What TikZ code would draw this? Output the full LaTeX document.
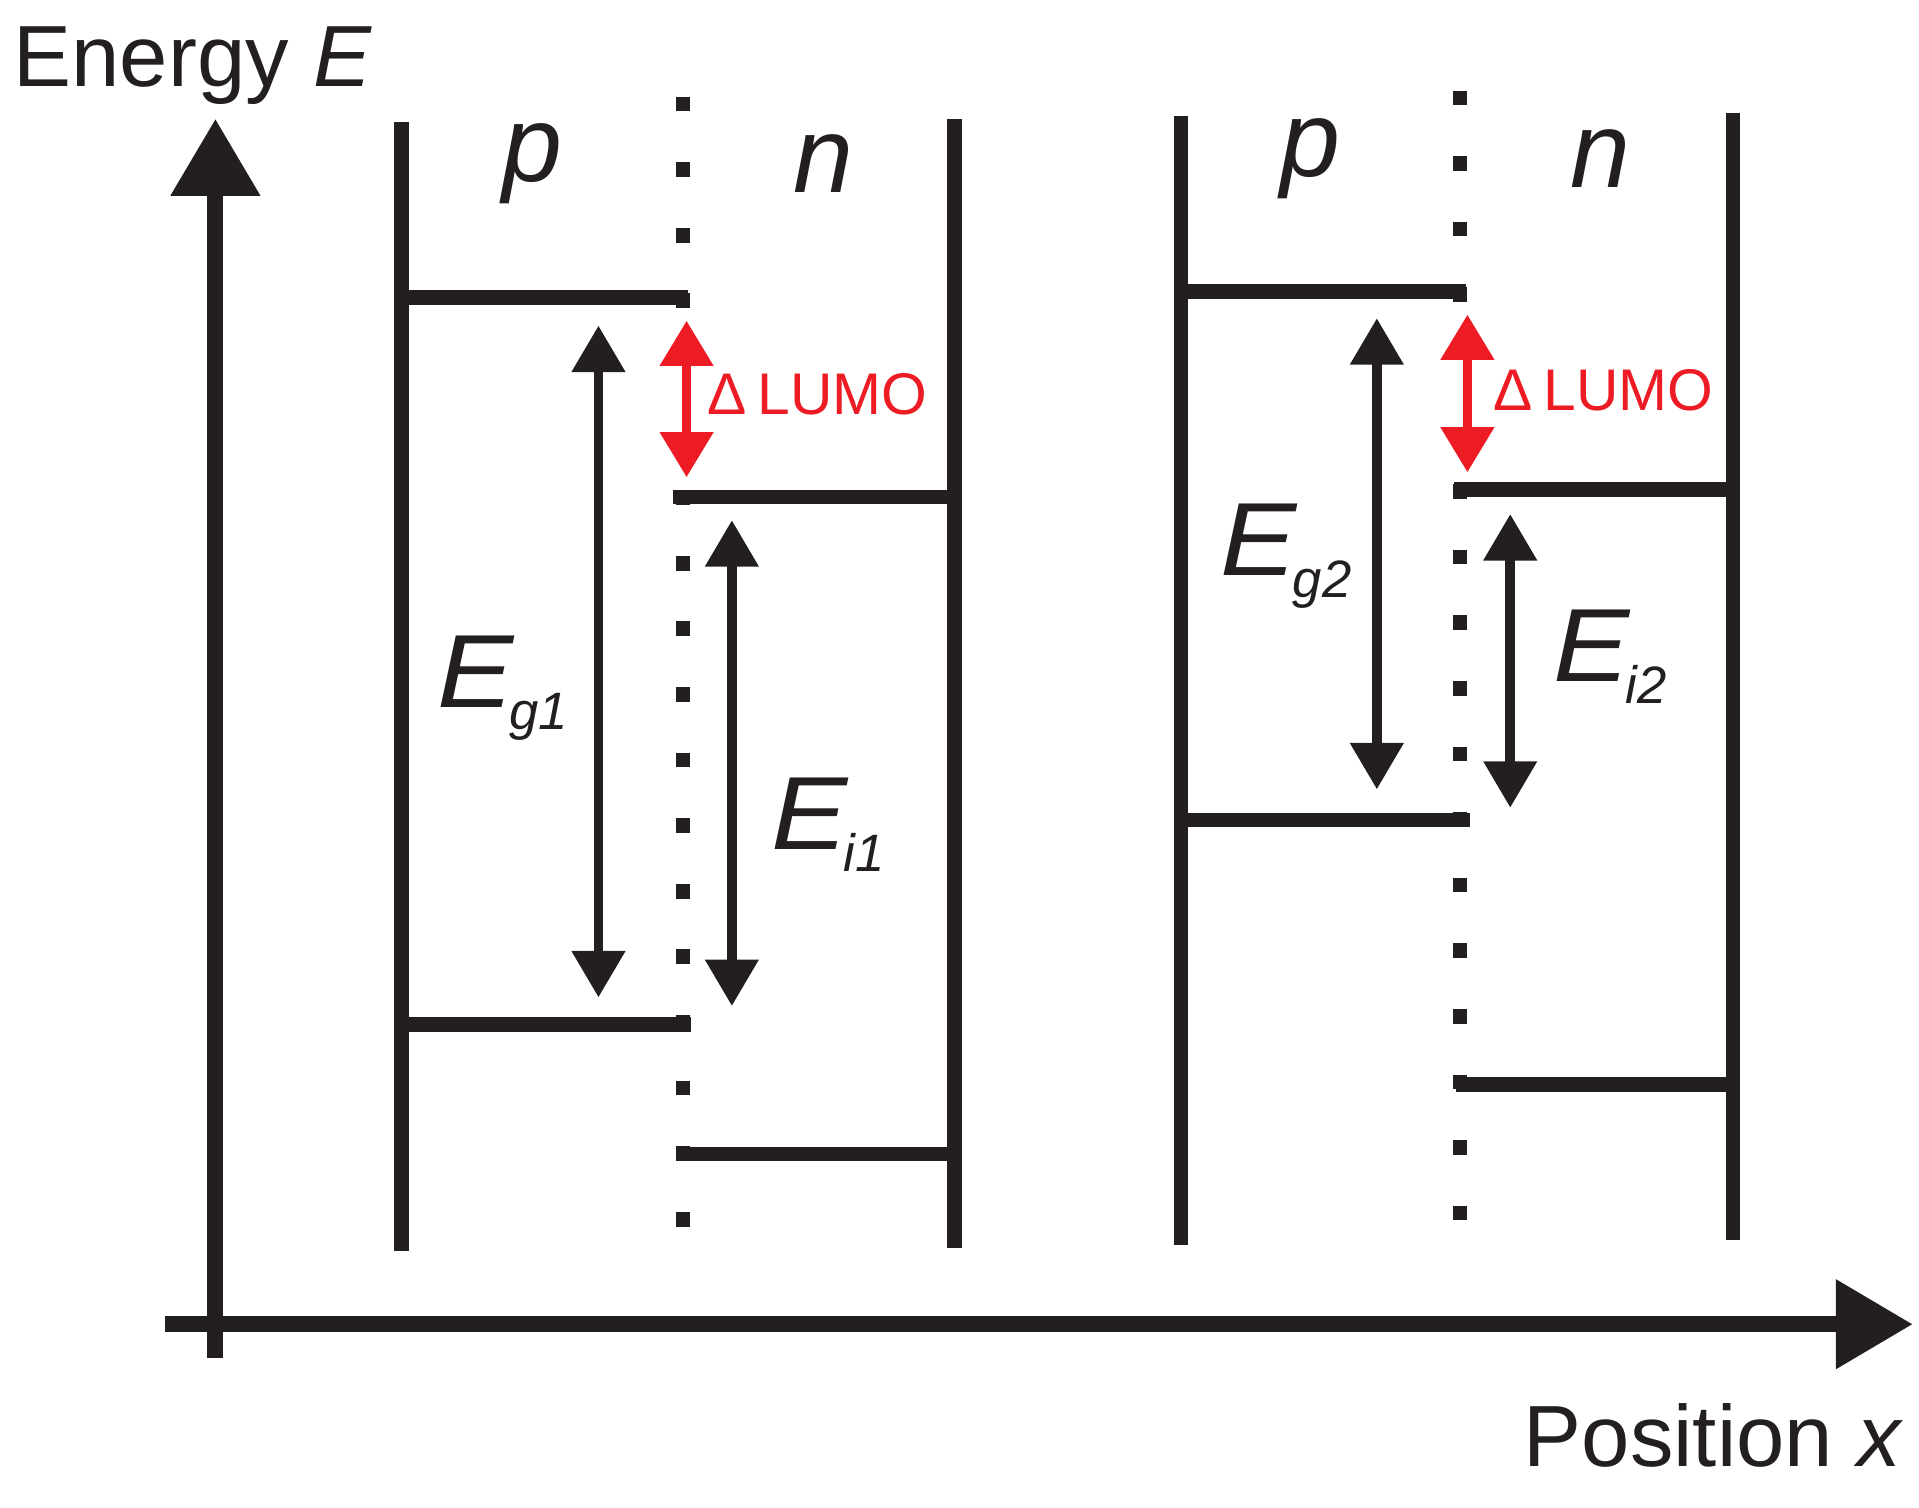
\documentclass[tikz,border=0pt]{standalone}
\usepackage{fontspec}
\setmainfont{Liberation Sans}
\usetikzlibrary{arrows.meta}
\definecolor{ink}{HTML}{231F20}
\definecolor{lumored}{HTML}{ED1C24}
\newcommand{\bigfont}{\fontsize{71}{80}\selectfont}
\newcommand{\labfont}{\fontsize{85}{90}\selectfont}
\newcommand{\subfont}{\fontsize{43}{50}\selectfont}
\newcommand{\pnfont}{\fontsize{88}{96}\selectfont}
\newcommand{\lumofont}{\fontsize{48}{50}\selectfont}
\newcommand{\bandlabel}[1]{\labfont\scalebox{1.1}[1]{\textit{E}}\hspace{-4pt}\raisebox{-18pt}{\subfont\textit{#1}}}
\newcommand{\dlumotext}{\lumofont Δ\hspace{9pt}LUMO}
\begin{document}
\begin{tikzpicture}[x=1pt,y=-1pt,
  wall/.style={draw=ink,line width=12pt},
  level/.style={draw=ink,line width=12pt},
  axis/.style={draw=ink,line width=13pt,-{Triangle[width=70pt,length=63pt]}},
  gaparrow/.style={draw=ink,line width=8pt,{Triangle[width=42pt,length=38pt]}-{Triangle[width=42pt,length=38pt]}},
  dlumo/.style={draw=lumored,line width=8pt,{Triangle[width=42pt,length=37pt]}-{Triangle[width=42pt,length=37pt]}},
  lbl/.style={inner sep=0pt,anchor=base west,text=ink},
  dotsq/.style={fill=ink},
]
\useasboundingbox (0,0) rectangle (1568,1232);

% axes
\coordinate (ybot) at (176,1110);
\coordinate (ytop) at (176,97);
\coordinate (xleft) at (135,1082);
\coordinate (xright) at (1563,1082);
\draw[axis] (ybot) -- (ytop);
\draw[axis] (xleft) -- (xright);
\node[lbl] (elabel) at (11,71) {\bigfont Energy \textit{E}};
\node[lbl] (xlabel) at (1245,1198) {\bigfont Position \textit{x}};

% dotted interfaces
\foreach \k in {0,1,2,3,6,7,8,9,10,11,12,13,14,15,16,17}{
  \fill[dotsq] ({558-6},{85+53.6*\k-6}) rectangle ++(12,12);
  \fill[dotsq] ({1193-6},{80+53.6*\k-6}) rectangle ++(12,12);
}

% left diagram
\draw[wall] (328,100) -- (328,1022);
\draw[wall] (780,97) -- (780,1020);
\draw[level] (328,243) -- (562,243);
\draw[level] (328,837) -- (565,837);
\draw[level] (550,406) -- (780,406);
\draw[level] (553,943) -- (780,943);
\coordinate (g1t) at (489,266);
\coordinate (g1b) at (489,815);
\coordinate (i1t) at (598,425);
\coordinate (i1b) at (598,822);
\coordinate (l1t) at (561,262);
\coordinate (l1b) at (561,390);
\draw[gaparrow] (g1t) -- (g1b);
\draw[gaparrow] (i1t) -- (i1b);
\draw[dlumo] (l1t) -- (l1b);
\node[lbl] (p1) at (410,148) {\pnfont\textit{p}};
\node[lbl] (n1) at (648,157) {\pnfont\textit{n}};
\node[lbl] (eg1) at (357,578) {\bandlabel{g1}};
\node[lbl] (ei1) at (630,694) {\bandlabel{i1}};
\node[lbl,text=lumored] (dl1) at (578,339) {\dlumotext};

% right diagram
\draw[wall] (965,95) -- (965,1017);
\draw[wall] (1416,92) -- (1416,1013);
\draw[level] (965,238) -- (1198,238);
\draw[level] (965,670) -- (1201,670);
\draw[level] (1188,400) -- (1416,400);
\draw[level] (1190,886) -- (1416,886);
\coordinate (g2t) at (1125,260);
\coordinate (g2b) at (1125,645);
\coordinate (i2t) at (1234,420);
\coordinate (i2b) at (1234,660);
\coordinate (l2t) at (1199,257);
\coordinate (l2b) at (1199,386);
\draw[gaparrow] (g2t) -- (g2b);
\draw[gaparrow] (i2t) -- (i2b);
\draw[dlumo] (l2t) -- (l2b);
\node[lbl] (p2) at (1046,144) {\pnfont\textit{p}};
\node[lbl] (n2) at (1283,153) {\pnfont\textit{n}};
\node[lbl] (eg2) at (997,470) {\bandlabel{g2}};
\node[lbl] (ei2) at (1269,557) {\bandlabel{i2}};
\node[lbl,text=lumored] (dl2) at (1220,335) {\dlumotext};
\end{tikzpicture}
\end{document}
